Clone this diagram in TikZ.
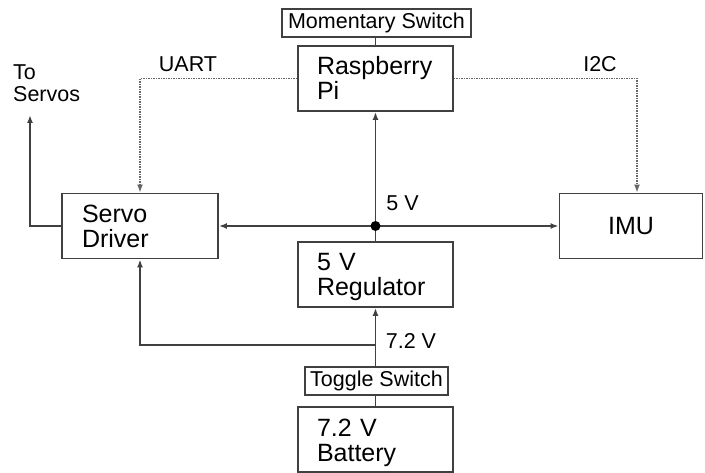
\documentclass[tikz,border=0pt]{standalone}
\usepackage{fontspec}
\setmainfont{Liberation Sans}
\usetikzlibrary{arrows.meta,calc}
\begin{document}
\begin{tikzpicture}[x=1pt,y=-1pt,
  line/.style={draw=black!75, line width=1.9pt},
  arr/.style={line, -{Latex[length=8pt,width=6pt]}},
  dots/.style={draw=black!60, line width=1.4pt, dash pattern=on 1.2pt off 1.3pt, -{Latex[length=8pt,width=6pt]}},
  block/.style={draw=black!75, line width=1.9pt, minimum height=65pt, inner xsep=19pt, inner ysep=0pt, text height=18pt, text depth=25pt, align=left, font=\fontsize{25}{25}\selectfont},
  swbox/.style={draw=black!75, line width=1.9pt, minimum height=28pt, inner sep=0pt, font=\fontsize{21.5}{22}\selectfont},
  lbl/.style={inner sep=0pt, font=\fontsize{21.5}{22}\selectfont},
]
\useasboundingbox (0,0) rectangle (705,473);

\node[block, text width=117pt] (pi) at (375.5,78.5) {Raspberry\\Pi};
\node[block, text width=117pt] (reg) at (375.5,274.5) {5 V\\Regulator};
\node[block, text width=117pt] (bat) at (375.5,439.5) {7.2 V\\Battery};
\node[block, text width=116pt, inner xsep=20pt] (servo) at (140,226) {Servo\\Driver};
\node[block, minimum width=143pt, align=center, text depth=0pt] (imu) at (631,226) {IMU};
\node[swbox, minimum width=189pt] (ms) at (376.5,23) {Momentary Switch};
\node[swbox, minimum width=143pt] (ts) at (376.5,381) {Toggle Switch};

\coordinate (j) at (pi.south |- servo.east);
\coordinate (b) at (375.5,345);
\coordinate (out) at (30,115);

\draw[line] (pi.north) -- (pi.north |- ms.south);
\draw[arr] (j) -- (pi.south);
\draw[arr] (j) -- (servo.east);
\draw[arr] (j) -- (imu.west);
\draw[line] (j) -- (reg.north);
\fill[black] (j) circle (5pt);
\draw[arr] (reg.south |- ts.north) -- (reg.south);
\draw[line] (bat.north) -- (bat.north |- ts.south);
\draw[arr] (b) -| (servo.south);
\draw[arr] (servo.west) -| (out);
\draw[dots] (pi.west) -| (servo.north);
\draw[dots] (pi.east) -| ([xshift=6pt]imu.north);

\node[lbl, anchor=base] (uart) at (188,72) {UART};
\node[lbl, anchor=base] (i2c) at (600,72) {I2C};
\node[lbl, anchor=base] (v5) at (402.5,211) {5 V};
\node[lbl, anchor=base] (v72) at (411,349) {7.2 V};
\node[lbl, anchor=north west, align=left] (toservos) at (13,65) {To\\Servos};
\end{tikzpicture}
\end{document}
